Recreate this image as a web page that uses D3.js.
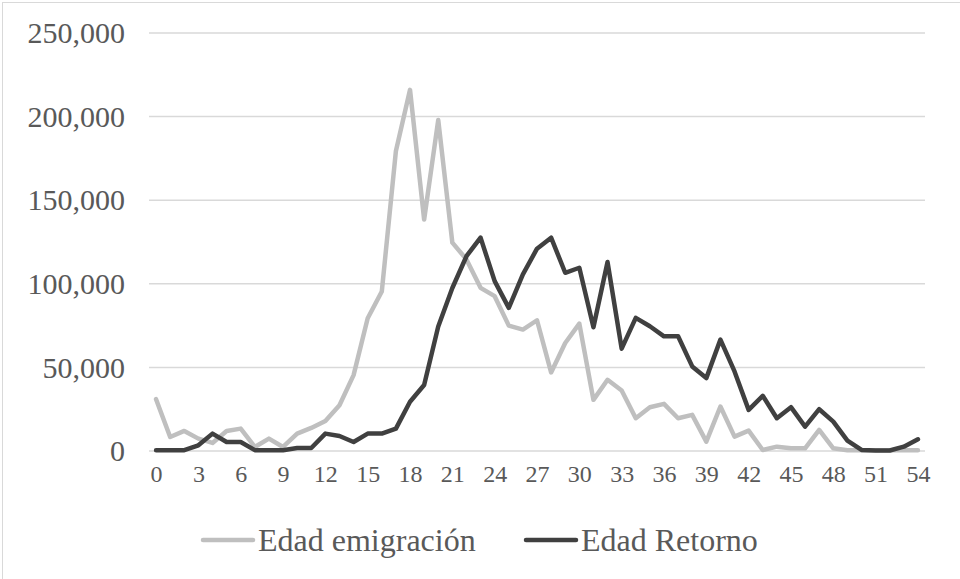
<!DOCTYPE html>
<html>
<head>
<meta charset="utf-8">
<script src="https://cdn.jsdelivr.net/npm/d3@7"></script>
<style>
body { margin: 0; background: #fff; }
svg { display: block; font-family: "Liberation Serif", "Times New Roman", serif; }
</style>
</head>
<body>
<script>
// edades 0..54
var ages = d3.range(0, 55);
var xTicks = [0, 3, 6, 9, 12, 15, 18, 21, 24, 27, 30, 33, 36, 39, 42, 45, 48, 51, 54];
var yTicks = [0, 50000, 100000, 150000, 200000, 250000];

var emigracion = [31000, 8400, 12000, 7400, 4800, 12000, 13400, 2400, 7400, 2400,
  10400, 13800, 18000, 27400, 45400, 79400, 95400, 179400, 216000, 138400,
  198000, 124600, 114600, 97600, 92600, 75000, 72600, 78200, 47000, 64600,
  76200, 30600, 42600, 36200, 19600, 26200, 28200, 19600, 21600, 5600,
  26600, 8600, 12200, 600, 2600, 1600, 1600, 12600, 1600, 500,
  500, 500, 500, 500, 500];

var retorno = [500, 500, 500, 3400, 10400, 5400, 5400, 500, 500, 500,
  1800, 1800, 10400, 9000, 5400, 10400, 10400, 13400, 29500, 39500,
  74500, 97500, 116500, 127600, 101600, 85600, 105600, 121000, 127600, 106600,
  109600, 74000, 113000, 61200, 79600, 74600, 68600, 68600, 50600, 43600,
  66600, 47600, 24600, 33000, 19600, 26200, 14600, 25000, 17600, 6200,
  600, 300, 300, 2600, 7000];

var seriesNames = ["Edad emigración", "Edad Retorno"];
var seriesColors = ["#bfbfbf", "#404040"];

var W = 960, H = 579;
var plot = {left: 149, right: 925, top: 33, bottom: 451};

var svg = d3.select("body").append("svg")
  .attr("width", W)
  .attr("height", H);

// marco del gráfico
svg.append("rect")
  .attr("x", 2.5).attr("y", 2.5)
  .attr("width", 1000).attr("height", 1000)
  .attr("fill", "none")
  .attr("stroke", "#d9d9d9");

var xScale = d3.scalePoint().domain(ages).range([plot.left, plot.right]).padding(0.5);
var yScale = d3.scaleLinear().domain([0, 250000]).range([plot.bottom, plot.top]);

// lineas de cuadricula
svg.append("g")
  .selectAll("line")
  .data(yTicks)
  .enter().append("line")
  .attr("x1", plot.left).attr("x2", plot.right)
  .attr("y1", function(d) { return yScale(d); })
  .attr("y2", function(d) { return yScale(d); })
  .attr("stroke", "#d9d9d9")
  .attr("stroke-width", 1.5);

var yAxis = d3.axisLeft(yScale)
  .tickValues(yTicks)
  .tickFormat(d3.format(","))
  .tickSize(0)
  .tickPadding(24);
var yAxisGroup = svg.append("g")
  .attr("transform", "translate(" + plot.left + ",0)")
  .call(yAxis)
  .attr("font-family", null)
  .attr("font-size", null);
yAxisGroup.select(".domain").remove();
yAxisGroup.selectAll("text")
  .attr("font-size", 30)
  .attr("fill", "#595959");

var xAxis = d3.axisBottom(xScale)
  .tickValues(xTicks)
  .tickSize(0)
  .tickPadding(14);
var xAxisGroup = svg.append("g")
  .attr("transform", "translate(0," + plot.bottom + ")")
  .call(xAxis)
  .attr("font-family", null)
  .attr("font-size", null);
xAxisGroup.select(".domain").remove();
xAxisGroup.selectAll("text")
  .attr("font-size", 24)
  .attr("fill", "#595959");

var line = d3.line()
  .x(function(d, i) { return xScale(ages[i]); })
  .y(function(d) { return yScale(d); });

[emigracion, retorno].forEach(function(values, k) {
  svg.append("path")
    .datum(values)
    .attr("d", line)
    .attr("fill", "none")
    .attr("stroke", seriesColors[k])
    .attr("stroke-width", 4.5)
    .attr("stroke-linejoin", "round")
    .attr("stroke-linecap", "round");
});

// leyenda
var legendX = [203, 526];
var legend = svg.append("g");
seriesNames.forEach(function(name, k) {
  legend.append("line")
    .attr("x1", legendX[k]).attr("x2", legendX[k] + 50)
    .attr("y1", 540).attr("y2", 540)
    .attr("stroke", seriesColors[k])
    .attr("stroke-width", 4.5)
    .attr("stroke-linecap", "round");
  legend.append("text")
    .attr("x", legendX[k] + 55)
    .attr("y", 540)
    .attr("dy", "0.35em")
    .attr("font-size", 32)
    .attr("fill", "#595959")
    .text(name);
});
</script>
</body>
</html>
